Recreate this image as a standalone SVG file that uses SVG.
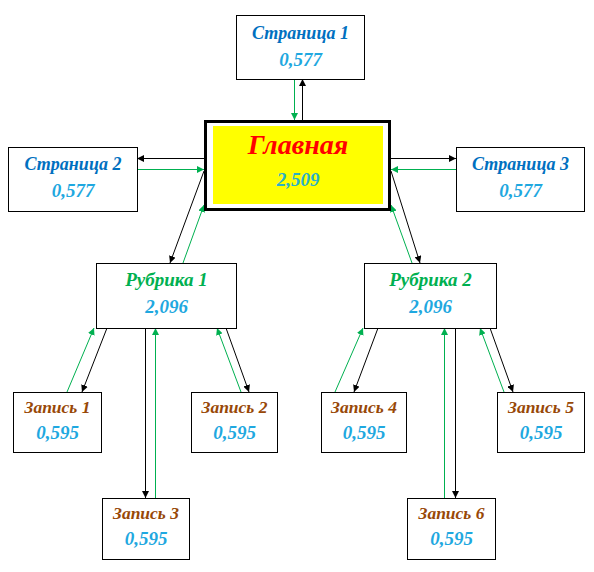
<svg xmlns="http://www.w3.org/2000/svg" width="594" height="572" viewBox="0 0 594 572">
<defs>
<marker id="ab" viewBox="0 0 10 10" refX="10" refY="5" markerWidth="7" markerHeight="7" markerUnits="userSpaceOnUse" orient="auto"><path d="M0,0 L10,5 L0,10 z" fill="#000"/></marker>
<marker id="ag" viewBox="0 0 10 10" refX="10" refY="5" markerWidth="7" markerHeight="7" markerUnits="userSpaceOnUse" orient="auto"><path d="M0,0 L10,5 L0,10 z" fill="#00B050"/></marker>
</defs>
<style>
.box{fill:#fff;stroke:#000;stroke-width:1}
text{font-family:"Liberation Serif","Times New Roman",serif;font-weight:bold;font-style:italic;text-anchor:middle}
.pg{fill:#0070C0;font-size:18px}
.rb{fill:#00B050;font-size:19px}
.zp{fill:#984807;font-size:17.5px}
.v{fill:#1FA8E0;font-size:19px}
.b{stroke:#000;stroke-width:1;fill:none;marker-end:url(#ab)}
.g{stroke:#00B050;stroke-width:1;fill:none;marker-end:url(#ag)}
</style>
<rect width="594" height="572" fill="#fff"/>
<g id="connectors">
<line class="g" x1="294.5" y1="79" x2="294.5" y2="120"/>
<line class="b" x1="302.5" y1="120" x2="302.5" y2="79"/>
<line class="b" x1="204" y1="158.5" x2="137" y2="158.5"/>
<line class="g" x1="137" y1="169.5" x2="204" y2="169.5"/>
<line class="b" x1="391" y1="158.5" x2="456" y2="158.5"/>
<line class="g" x1="456" y1="169.5" x2="391" y2="169.5"/>
<line class="b" x1="204" y1="171" x2="170" y2="263"/>
<line class="g" x1="183" y1="263" x2="204" y2="205"/>
<line class="b" x1="391" y1="171" x2="420" y2="263"/>
<line class="g" x1="412" y1="263" x2="391" y2="205"/>
<line class="g" x1="67" y1="392" x2="94" y2="328"/>
<line class="b" x1="107" y1="328" x2="82" y2="392"/>
<line class="g" x1="241" y1="392" x2="217" y2="328"/>
<line class="b" x1="226" y1="328" x2="249" y2="392"/>
<line class="b" x1="145.5" y1="328" x2="145.5" y2="498"/>
<line class="g" x1="155.5" y1="498" x2="155.5" y2="328"/>
<line class="g" x1="335" y1="392" x2="363" y2="328"/>
<line class="b" x1="378" y1="328" x2="354" y2="392"/>
<line class="g" x1="504" y1="392" x2="480" y2="328"/>
<line class="b" x1="490" y1="328" x2="513" y2="392"/>
<line class="g" x1="444.5" y1="498" x2="444.5" y2="328"/>
<line class="b" x1="455.5" y1="328" x2="455.5" y2="498"/>
</g>
<g id="glavnaya">
<rect x="205.5" y="121.5" width="184" height="88" fill="#fff" stroke="#000" stroke-width="3"/>
<rect x="213" y="126" width="170" height="78" fill="#FFFF00"/>
<text x="298" y="154" style="fill:#FF0000;font-size:28px">Главная</text>
<text x="298" y="186" style="fill:#2AAFC8;font-size:19px">2,509</text>
</g>
<g id="page1">
<rect class="box" x="236.5" y="15.5" width="128" height="64"/>
<text class="pg" x="300.5" y="39">Страница 1</text>
<text class="v" x="300.5" y="66">0,577</text>
</g>
<g id="page2">
<rect class="box" x="8.5" y="147.5" width="129" height="64"/>
<text class="pg" x="73" y="170">Страница 2</text>
<text class="v" x="73" y="197">0,577</text>
</g>
<g id="page3">
<rect class="box" x="456.5" y="147.5" width="128" height="64"/>
<text class="pg" x="520.5" y="170">Страница 3</text>
<text class="v" x="520.5" y="197">0,577</text>
</g>
<g id="rubric1">
<rect class="box" x="96.5" y="263.5" width="140" height="65"/>
<text class="rb" x="166.5" y="286">Рубрика 1</text>
<text class="v" x="166.5" y="313">2,096</text>
</g>
<g id="rubric2">
<rect class="box" x="364.5" y="263.5" width="132" height="65"/>
<text class="rb" x="430.5" y="286">Рубрика 2</text>
<text class="v" x="430.5" y="313">2,096</text>
</g>
<g id="zap1">
<rect class="box" x="13.5" y="392.5" width="88" height="60"/>
<text class="zp" x="57.5" y="413">Запись 1</text>
<text class="v" x="57.5" y="439">0,595</text>
</g>
<g id="zap2">
<rect class="box" x="191.5" y="392.5" width="86" height="60"/>
<text class="zp" x="234.5" y="413">Запись 2</text>
<text class="v" x="234.5" y="439">0,595</text>
</g>
<g id="zap3">
<rect class="box" x="102.5" y="498.5" width="87" height="61"/>
<text class="zp" x="146" y="519">Запись 3</text>
<text class="v" x="146" y="545">0,595</text>
</g>
<g id="zap4">
<rect class="box" x="321.5" y="392.5" width="85" height="60"/>
<text class="zp" x="364" y="413">Запись 4</text>
<text class="v" x="364" y="439">0,595</text>
</g>
<g id="zap5">
<rect class="box" x="497.5" y="392.5" width="87" height="60"/>
<text class="zp" x="541" y="413">Запись 5</text>
<text class="v" x="541" y="439">0,595</text>
</g>
<g id="zap6">
<rect class="box" x="407.5" y="498.5" width="88" height="61"/>
<text class="zp" x="451.5" y="519">Запись 6</text>
<text class="v" x="451.5" y="545">0,595</text>
</g>
</svg>
